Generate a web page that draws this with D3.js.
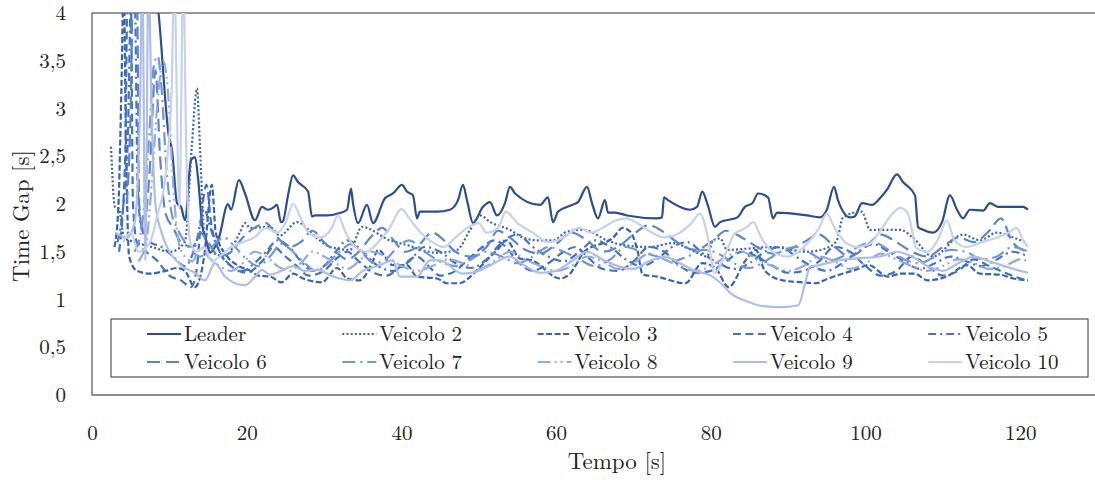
<!DOCTYPE html>
<html lang="it">
<head>
<meta charset="utf-8">
<title>Time Gap</title>
<script src="https://cdn.jsdelivr.net/npm/d3@7"></script>
<style>
  body { margin: 0; background: #fff; }
  text { font-family: "Latin Modern Roman", "CMU Serif", "Liberation Serif", serif; fill: #222; }
  .tick text { font-size: 21px; }
  .serie { fill: none; stroke-width: 2.2px; stroke-linejoin: round; }
</style>
</head>
<body>
<div id="chart"></div>
<script>
// dati: [tempo s, time gap s]
var leader = [[8.0,4.4],[8.6,4.0],[9.95,2.7],[10.34,2.57],[10.99,2.01],[11.51,1.97],[12.02,1.83],[12.8,2.46],[13.32,2.49],[13.7,2.28],[14.22,1.8],[14.87,1.59],[15.25,1.49],[16.42,1.65],[17.58,2.0],[17.97,1.94],[19.0,2.25],[19.78,2.11],[21.07,1.83],[21.98,1.97],[22.75,1.94],[23.4,1.96],[23.92,1.99],[24.43,1.81],[24.69,1.82],[25.34,2.09],[25.99,2.30],[26.63,2.23],[27.93,2.13],[28.44,1.87],[28.83,1.88],[30.38,1.88],[31.8,1.9],[32.97,1.94],[33.48,2.16],[33.74,2.01],[34.39,1.8],[35.55,1.99],[36.33,1.8],[37.88,2.06],[38.91,2.11],[40.08,2.2],[40.72,2.13],[41.5,2.09],[42.02,1.85],[42.4,1.92],[44.6,1.92],[46.28,1.94],[47.32,2.04],[47.96,2.2],[48.48,2.04],[49.26,1.8],[50.55,1.97],[51.45,2.02],[52.36,1.88],[53.39,2.01],[54.04,2.18],[54.69,2.11],[57.92,1.99],[58.95,2.07],[59.6,1.81],[60.25,1.92],[62.06,1.99],[62.83,2.02],[64.0,2.18],[64.64,2.01],[65.42,1.85],[66.32,2.04],[66.71,1.91],[67.61,1.91],[69.17,1.88],[73.04,1.85],[73.69,1.86],[73.95,2.07],[74.47,2.04],[77.31,1.94],[78.22,1.97],[78.9,2.13],[79.6,1.99],[80.55,1.76],[81.2,1.81],[83.45,1.86],[84.4,1.97],[85.4,2.01],[86.1,2.11],[87.4,2.07],[88.04,1.85],[88.56,1.91],[92.44,1.88],[94.12,1.86],[95.0,1.94],[95.93,2.18],[96.44,2.04],[98.0,1.86],[98.6,1.87],[99.55,2.01],[100.84,1.99],[101.87,2.06],[102.78,2.15],[104.07,2.31],[104.85,2.23],[106.4,2.09],[106.79,1.76],[107.43,1.73],[108.73,1.70],[109.89,1.81],[110.92,2.09],[111.83,1.94],[112.6,1.85],[113.5,1.94],[115.2,1.93],[116.1,2.01],[117.1,1.97],[120.4,1.97],[121.0,1.94]];

var veicolo2 = [[2.46,2.6],[2.97,1.97],[3.49,1.95],[4.14,1.65],[5.56,1.6],[7.76,1.55],[10.1,1.5],[12.0,1.6],[12.9,2.6],[13.57,3.21],[13.96,2.6],[14.5,1.7],[15.5,1.5],[17.2,1.45],[19.1,1.7],[19.78,1.8],[20.43,1.75],[23.0,1.76],[24.3,1.67],[26.5,1.81],[29.1,1.64],[30.8,1.55],[33.35,1.52],[34.9,1.76],[38.5,1.62],[40.7,1.57],[44.6,1.49],[47.2,1.52],[48.9,1.73],[50.2,1.88],[51.5,1.81],[54.0,1.73],[55.7,1.65],[57.5,1.62],[59.6,1.62],[61.4,1.71],[63.5,1.73],[66.6,1.62],[68.6,1.57],[72.1,1.55],[75.1,1.59],[78.2,1.49],[79.5,1.45],[80.3,1.62],[81.2,1.64],[82.1,1.52],[88.0,1.55],[92.4,1.50],[95.0,1.54],[96.3,1.62],[97.1,1.86],[99.5,1.92],[100.6,1.73],[104.5,1.73],[106.1,1.65],[108.7,1.45],[112.6,1.68],[114.8,1.62],[117.0,1.70],[119.1,1.65],[120.9,1.59]];

var veicolo3 = [[2.9,1.55],[3.4,1.95],[3.8,3.2],[4.1,4.3],[4.4,2.6],[4.8,1.45],[5.8,1.3],[7.5,1.27],[9.5,1.3],[11,1.33],[12,1.3],[13.3,1.13],[14.5,1.45],[15.5,2.2],[16,1.7],[17.5,1.45],[19,1.35],[20.5,1.3],[21.5,1.25],[23,1.24],[24.5,1.18],[26,1.27],[27.3,1.22],[29.7,1.18],[31.7,1.33],[33,1.22],[34.6,1.2],[36.2,1.38],[37,1.52],[38.9,1.36],[40.7,1.36],[42,1.24],[44.6,1.22],[45.9,1.17],[47.6,1.17],[48.5,1.21],[49.8,1.31],[51.5,1.45],[52.4,1.52],[53.6,1.62],[55.3,1.43],[56.9,1.41],[60.5,1.22],[61.8,1.27],[62.7,1.38],[63.5,1.49],[67.4,1.65],[68.6,1.75],[69.6,1.71],[70.5,1.52],[71.2,1.26],[73.0,1.24],[76.7,1.17],[78.9,1.38],[80.6,1.33],[82.3,1.13],[84.5,1.41],[85.8,1.52],[87,1.3],[89.3,1.2],[91.8,1.18],[93.5,1.17],[95.2,1.22],[97,1.27],[98.7,1.31],[100.4,1.36],[102.9,1.24],[104.5,1.27],[106.4,1.27],[108.0,1.2],[110.5,1.24],[113.1,1.36],[114.8,1.27],[117.4,1.26],[119.1,1.22],[121,1.2]];

var veicolo4 = [[3.5,1.5],[4.3,2.5],[4.6,4.3],[5.0,4.3],[5.3,2.0],[5.8,1.6],[7,1.5],[8.5,1.4],[10,1.25],[11.5,1.2],[12.8,1.13],[13.5,1.3],[14.3,2.0],[14.8,2.2],[15.4,1.8],[16.5,1.5],[18,1.35],[20,1.28],[22,1.4],[23.5,1.55],[25,1.45],[26.5,1.35],[28,1.25],[30,1.3],[31.5,1.42],[33,1.5],[34.5,1.4],[36,1.3],[38,1.25],[40,1.35],[42,1.45],[43.5,1.35],[45,1.25],[47,1.3],[49,1.45],[50.5,1.55],[52,1.62],[53.5,1.55],[55,1.4],[57,1.3],[59,1.38],[61,1.5],[62.5,1.55],[64,1.45],[66,1.32],[68,1.3],[70,1.4],[72,1.55],[74,1.5],[76,1.35],[78,1.28],[80,1.3],[82,1.4],[84,1.5],[86,1.45],[88,1.35],[90,1.28],[92,1.3],[94,1.4],[96,1.55],[98,1.5],[100,1.35],[102,1.25],[104,1.3],[106,1.45],[108,1.35],[110,1.25],[112,1.3],[114,1.42],[116,1.35],[118,1.28],[120,1.22],[121,1.2]];

var veicolo5 = [[3.3,1.6],[4.0,1.95],[4.6,2.6],[5.1,4.3],[5.5,4.3],[5.9,2.2],[6.4,1.75],[7.5,1.6],[9,1.55],[10.5,1.45],[12,1.35],[13.5,1.6],[14.5,1.95],[15.3,1.75],[16.5,1.5],[18,1.35],[19.5,1.3],[21,1.38],[22.5,1.5],[24,1.62],[25.5,1.55],[27,1.4],[28.5,1.3],[30,1.35],[31.5,1.5],[33,1.62],[35,1.5],[37,1.35],[39,1.3],[41,1.4],[43,1.55],[45,1.5],[47,1.38],[49,1.33],[51,1.42],[53,1.6],[55,1.68],[57,1.55],[59,1.45],[61,1.4],[63,1.5],[65,1.62],[67,1.55],[69,1.42],[71,1.35],[73,1.42],[75,1.55],[77,1.6],[79,1.48],[81,1.38],[83,1.32],[85,1.38],[87,1.5],[89,1.55],[91,1.45],[93,1.35],[95,1.3],[97,1.38],[99,1.5],[101,1.58],[103,1.5],[105,1.4],[107,1.32],[109,1.38],[111,1.45],[113,1.4],[115,1.35],[117,1.42],[119,1.5],[121,1.45]];

var veicolo6 = [[4.5,2.0],[5.0,3.0],[5.3,4.3],[5.8,4.3],[6.1,2.0],[6.6,1.7],[7.5,2.4],[8.2,3.4],[8.8,2.5],[9.5,1.9],[10.5,1.75],[11.5,1.6],[13,1.55],[14,1.7],[15,1.6],[16.5,1.45],[18,1.5],[19.5,1.65],[21,1.75],[22.5,1.8],[24,1.65],[25.5,1.55],[27,1.6],[28.5,1.72],[30,1.6],[31.5,1.5],[33,1.42],[34.5,1.5],[36,1.65],[37.5,1.75],[39,1.62],[40.5,1.5],[42,1.55],[44,1.7],[45.5,1.62],[47,1.5],[49,1.45],[51,1.55],[52.5,1.72],[54,1.65],[56,1.52],[58,1.48],[60,1.58],[62,1.7],[64,1.62],[66,1.5],[68,1.55],[70,1.68],[72,1.78],[74,1.7],[76,1.58],[78,1.52],[80,1.6],[82,1.72],[84,1.65],[86,1.55],[88,1.48],[90,1.52],[92,1.6],[94,1.68],[96,1.55],[98,1.45],[100,1.55],[102,1.68],[104,1.6],[106,1.5],[108,1.45],[110,1.55],[112,1.65],[114,1.6],[116,1.72],[117.5,1.85],[119,1.6],[121,1.5]];

var veicolo7 = [[5.5,1.5],[6.5,1.8],[7.3,2.6],[8.0,3.45],[8.5,3.55],[9.0,3.2],[9.6,2.4],[10.3,1.9],[11,1.75],[12,1.6],[13,1.5],[14,1.45],[15.5,1.55],[17,1.65],[18.5,1.55],[20,1.42],[21.5,1.35],[23,1.45],[24.5,1.58],[26,1.5],[27.5,1.38],[29,1.3],[30.5,1.38],[32,1.5],[33.5,1.58],[35,1.48],[36.5,1.38],[38,1.42],[39.5,1.55],[41,1.62],[43,1.5],[45,1.4],[47,1.35],[49,1.42],[51,1.5],[53,1.45],[55,1.38],[57,1.45],[59,1.55],[61,1.5],[63,1.42],[65,1.35],[67,1.42],[69,1.55],[71,1.5],[73,1.45],[75,1.4],[77,1.45],[79,1.52],[81,1.48],[83,1.38],[85,1.33],[87,1.4],[89,1.5],[91,1.55],[93,1.48],[95,1.4],[97,1.45],[99,1.55],[101,1.6],[103,1.52],[105,1.42],[107,1.38],[109,1.45],[111,1.52],[113,1.5],[115,1.42],[117,1.45],[119,1.55],[121,1.5]];

var veicolo8 = [[6,1.4],[7,1.6],[7.8,2.3],[8.4,3.0],[9.2,3.5],[9.8,3.2],[10.5,2.2],[11.2,1.6],[12,1.45],[13,1.4],[14,1.55],[15,1.45],[16.5,1.35],[18,1.3],[19.5,1.38],[21,1.5],[22.5,1.45],[24,1.35],[25.5,1.3],[27,1.38],[28.5,1.5],[30,1.45],[31.5,1.38],[33,1.32],[34.5,1.4],[36,1.5],[38,1.45],[40,1.35],[42,1.3],[44,1.35],[46,1.42],[48,1.38],[50,1.32],[52,1.4],[54,1.5],[56,1.42],[58,1.35],[60,1.3],[62,1.35],[64,1.45],[66,1.4],[68,1.32],[70,1.38],[72,1.48],[74,1.42],[76,1.35],[78,1.3],[80,1.35],[82,1.45],[84,1.5],[86,1.42],[88,1.35],[90,1.3],[92,1.35],[94,1.45],[96,1.4],[98,1.32],[100,1.38],[102,1.48],[104,1.42],[106,1.35],[108,1.3],[110,1.35],[112,1.42],[114,1.38],[116,1.32],[118,1.35],[120,1.42],[121,1.4]];

var veicolo9 = [[3.0,1.7],[4.5,1.65],[5.5,1.8],[6.2,3.0],[6.5,4.4],[6.9,1.41],[7.3,4.4],[7.7,3.0],[8.2,2.0],[9.0,1.7],[10.0,1.5],[11.0,1.4],[11.8,1.34],[13.3,1.28],[14.6,1.2],[15.9,1.38],[17.2,1.24],[18.5,1.17],[19.8,1.15],[21.1,1.24],[22.0,1.31],[23,1.26],[24.5,1.3],[26,1.35],[27.5,1.3],[29.1,1.31],[31.2,1.24],[33.4,1.2],[35,1.3],[36.9,1.35],[38.9,1.41],[39.8,1.24],[42,1.24],[43.7,1.41],[45,1.41],[47.9,1.27],[50,1.3],[52,1.38],[54,1.45],[56,1.35],[58,1.28],[60,1.3],[62,1.4],[64,1.5],[66,1.42],[68,1.35],[70,1.32],[72,1.4],[74,1.45],[76,1.38],[78,1.3],[80,1.25],[81.3,1.17],[82.5,1.07],[84.7,0.98],[86.8,0.93],[89,0.92],[91.3,0.94],[92.2,1.17],[92.8,1.34],[94.1,1.36],[96.5,1.41],[99,1.43],[101.9,1.45],[104,1.5],[106,1.45],[108,1.35],[110,1.3],[112,1.38],[114,1.45],[116,1.4],[118,1.35],[120,1.3],[121,1.28]];

var veicolo10 = [[4.0,1.6],[5,1.7],[6,1.5],[7.5,1.6],[8.5,1.9],[9.5,2.3],[10.3,3.2],[10.6,4.4],[11.3,1.95],[11.8,4.4],[12.2,2.5],[12.7,1.6],[13.5,1.5],[14.5,1.55],[15.5,1.4],[16.5,1.45],[18,1.55],[19.5,1.6],[21,1.65],[22.5,1.75],[24,1.7],[25,1.8],[26,2.0],[27,1.85],[28,1.7],[29.5,1.65],[31,1.75],[31.8,1.88],[32.8,1.7],[34,1.55],[35.5,1.5],[37,1.6],[38.5,1.75],[40,1.95],[41,1.85],[42.5,1.7],[44,1.6],[45.5,1.55],[47,1.65],[48.5,1.75],[50,1.8],[51,1.7],[52.5,1.75],[53.5,1.92],[55,1.8],[57,1.7],[59,1.6],[61,1.65],[63,1.75],[64.5,1.7],[66,1.75],[67.5,1.82],[69,1.85],[70.5,1.8],[72,1.72],[74,1.65],[76,1.7],[77.5,1.8],[78.6,1.9],[79.5,1.7],[80.5,1.28],[82,1.5],[83,1.68],[84.5,1.75],[85.5,1.81],[86.5,1.65],[88,1.5],[90,1.45],[92,1.55],[94,1.75],[95,1.9],[96,1.75],[97.5,1.59],[99,1.55],[100.5,1.58],[102,1.73],[103.5,1.9],[104.5,1.96],[105.5,1.9],[106,1.73],[106.5,1.54],[108,1.5],[109.5,1.65],[110.5,1.83],[111.5,1.62],[113,1.55],[115,1.6],[117,1.65],[118.5,1.7],[119.5,1.75],[120.5,1.6],[121,1.55]];

var nomi = ["Leader", "Veicolo 2", "Veicolo 3", "Veicolo 4", "Veicolo 5", "Veicolo 6", "Veicolo 7", "Veicolo 8", "Veicolo 9", "Veicolo 10"];
var serie = [leader, veicolo2, veicolo3, veicolo4, veicolo5, veicolo6, veicolo7, veicolo8, veicolo9, veicolo10];
var colori = ["#2c4d8e", "#3a62b2", "#3762b3", "#4270c2", "#4672c4", "#5b84cc", "#7595d4", "#92aadd", "#adbde3", "#c6d1eb"];
var tratti = [null, "2 2.2", "6 2.5", "8 4.5", "8 4 2 4", "13 6", "13 5 2 5", "13 4 2 4 2 4", null, null];
var xTicks = [0, 20, 40, 60, 80, 100, 120];
var yTicks = [0, 0.5, 1, 1.5, 2, 2.5, 3, 3.5, 4];

var width = 1095, height = 480;
var margin = { left: 92, top: 13, bottom: 85 };

var svg = d3.select("#chart").append("svg")
    .attr("width", width)
    .attr("height", height);

var x = d3.scaleLinear().domain([0, 130]).range([margin.left, margin.left + 130 * 7.735]);
var y = d3.scaleLinear().domain([0, 4]).range([height - margin.bottom, margin.top]);

svg.append("clipPath").attr("id", "area")
  .append("rect")
    .attr("x", x(0)).attr("y", y(4))
    .attr("width", x(130) - x(0)).attr("height", y(0) - y(4));

// bordo area
svg.append("rect")
    .attr("x", x(0)).attr("y", y(4))
    .attr("width", x(130) - x(0)).attr("height", y(0) - y(4))
    .attr("fill", "none").attr("stroke", "#333").attr("stroke-width", 1);

var fmt = function(d) { return String(d).replace(".", ","); };

svg.append("g")
    .attr("transform", "translate(" + (x(0) - 23) + ",0)")
    .call(d3.axisLeft(y).tickValues(yTicks).tickSize(0).tickFormat(fmt))
    .call(function(g) { g.select(".domain").remove(); });

svg.append("g")
    .attr("transform", "translate(0," + (y(0) + 27) + ")")
    .call(d3.axisBottom(x).tickValues(xTicks).tickSize(0).tickFormat(fmt))
    .call(function(g) { g.select(".domain").remove(); });

svg.append("line")
    .attr("x1", x(0)).attr("x2", x(130))
    .attr("y1", y(0)).attr("y2", y(0))
    .attr("stroke", "#8c8c8c").attr("stroke-width", 1.5);

var line = d3.line()
    .x(function(d) { return x(d[0]); })
    .y(function(d) { return y(d[1]); })
    .curve(d3.curveMonotoneX);

svg.append("g").attr("clip-path", "url(#area)")
  .selectAll("path")
    .data(serie)
  .enter().append("path")
    .attr("class", "serie")
    .attr("d", line)
    .attr("stroke", function(d, i) { return colori[i]; })
    .attr("stroke-dasharray", function(d, i) { return tratti[i]; });

// legenda
var leg = svg.append("g");
leg.append("rect")
    .attr("x", 111).attr("y", 319).attr("width", 977).attr("height", 58)
    .attr("fill", "#fff").attr("stroke", "#333").attr("stroke-width", 1);

var voci = leg.selectAll("g.voce")
    .data(nomi)
  .enter().append("g")
    .attr("class", "voce")
    .attr("transform", function(d, i) {
      return "translate(" + (147 + (i % 5) * 195.3) + "," + (334 + Math.floor(i / 5) * 28) + ")";
    });

voci.append("line")
    .attr("x1", 0).attr("x2", 34).attr("y1", 0).attr("y2", 0)
    .attr("stroke-width", 2.2)
    .attr("stroke", function(d, i) { return colori[i]; })
    .attr("stroke-dasharray", function(d, i) { return tratti[i]; });

voci.append("text")
    .attr("x", 37).attr("y", 0).attr("dy", "0.35em")
    .style("font-size", "21px")
    .text(function(d) { return d; });

svg.append("text")
    .attr("transform", "translate(29,216) rotate(-90)")
    .attr("text-anchor", "middle")
    .style("font-size", "23px")
    .text("Time Gap [s]");

svg.append("text")
    .attr("x", 617).attr("y", 469)
    .attr("text-anchor", "middle")
    .style("font-size", "23px")
    .text("Tempo [s]");
</script>
</body>
</html>
